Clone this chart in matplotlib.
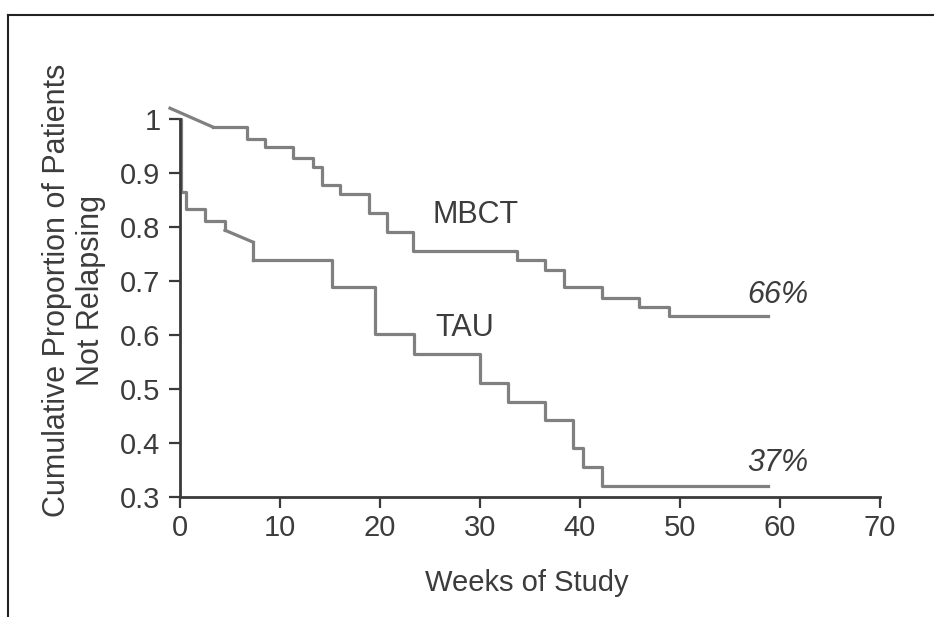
import matplotlib
matplotlib.use('Agg')
import matplotlib.pyplot as plt
from matplotlib.lines import Line2D
import numpy as np

# step data (weeks, proportion)
mbct_weeks = [-1.0, 3.3, 6.7, 8.5, 11.3, 13.3, 14.2, 16.0, 18.9, 20.7, 23.3, 33.7, 36.5, 38.4, 42.2, 45.9, 48.9, 58.8]
mbct_prop = [1.02, 0.985, 0.963, 0.949, 0.928, 0.911, 0.878, 0.861, 0.826, 0.791, 0.756, 0.739, 0.720, 0.688, 0.668, 0.652, 0.635, 0.635]

tau_weeks = [0.0, 0.1, 0.6, 2.5, 4.5, 7.3, 15.2, 19.5, 23.4, 30.0, 32.8, 36.5, 39.3, 40.3, 42.2, 58.8]
tau_prop = [1.0, 0.865, 0.833, 0.811, 0.794, 0.739, 0.689, 0.602, 0.565, 0.511, 0.476, 0.443, 0.391, 0.356, 0.320, 0.320]

y_ticks = [0.3, 0.4, 0.5, 0.6, 0.7, 0.8, 0.9, 1.0]
y_labels = ['0.3', '0.4', '0.5', '0.6', '0.7', '0.8', '0.9', '1']
x_ticks = [0, 10, 20, 30, 40, 50, 60, 70]

plt.rcParams['font.family'] = ['Liberation Sans', 'DejaVu Sans']

line_col = '#808080'
axis_col = '#3a3a3a'
text_col = '#3c3c3c'

fig = plt.figure(figsize=(9.34, 6.17), dpi=100)
ax = fig.add_axes([165 / 934, 1 - 497 / 617, 725 / 934, 394.2 / 617])

# MBCT: first segment is a slope, rest are steps
ax.plot(mbct_weeks[:2], mbct_prop[:2], color=line_col, lw=2.3)
ax.step(mbct_weeks[1:], mbct_prop[1:], where='post', color=line_col, lw=2.3)

# TAU: the short slope around week 5-7 drawn as plain line, rest steps
ax.step(tau_weeks[:5], tau_prop[:5], where='post', color=line_col, lw=2.3)
ax.plot([tau_weeks[4], tau_weeks[5]], [tau_prop[4], 0.772], color=line_col, lw=2.3)
ax.plot([tau_weeks[5], tau_weeks[5]], [0.772, tau_prop[5]], color=line_col, lw=2.3)
ax.step(tau_weeks[5:], tau_prop[5:], where='post', color=line_col, lw=2.3)

ax.set_xlim(-1.5, 71)
ax.set_ylim(0.3, 1.03)

for s in ['top', 'right']:
    ax.spines[s].set_visible(False)
ax.spines['left'].set_position(('data', 0))
ax.spines['left'].set_bounds(0.3, 1.0)
ax.spines['bottom'].set_bounds(0, 70)
for s in ['left', 'bottom']:
    ax.spines[s].set_color(axis_col)
    ax.spines[s].set_linewidth(2)

ax.set_xticks(x_ticks)
ax.set_xticklabels([str(t) for t in x_ticks])
ax.set_yticks(y_ticks)
ax.set_yticklabels(y_labels)
ax.tick_params(axis='both', direction='out', length=8, width=1.6, color=axis_col,
               labelsize=21, labelcolor=text_col)
ax.tick_params(axis='x', pad=4)
ax.tick_params(axis='y', pad=6)

ax.text(29.6, 0.822, 'MBCT', fontsize=22, color=text_col, ha='center', va='center')
ax.text(28.5, 0.613, 'TAU', fontsize=22, color=text_col, ha='center', va='center')
ax.text(59.8, 0.674, '66%', fontsize=22, color=text_col, ha='center', va='center',
        style='italic')
ax.text(59.8, 0.363, '37%', fontsize=22, color=text_col, ha='center', va='center',
        style='italic')

fig.text(74 / 934, 1 - 290 / 617, 'Cumulative Proportion of Patients\nNot Relapsing',
         rotation=90, ha='center', va='center', fontsize=22, color=text_col,
         linespacing=1.2)
fig.text(527 / 934, 1 - 583 / 617, 'Weeks of Study', ha='center', va='center',
         fontsize=21, color=text_col)

# frame lines at top and left of the scan
fig.add_artist(Line2D([8 / 934, 8 / 934], [0, 1 - 15 / 617], color='#222222', lw=1.5,
                      transform=fig.transFigure))
fig.add_artist(Line2D([8 / 934, 1], [1 - 15 / 617, 1 - 15 / 617], color='#222222', lw=1.5,
                      transform=fig.transFigure))

fig.savefig('out.png', dpi=100)
